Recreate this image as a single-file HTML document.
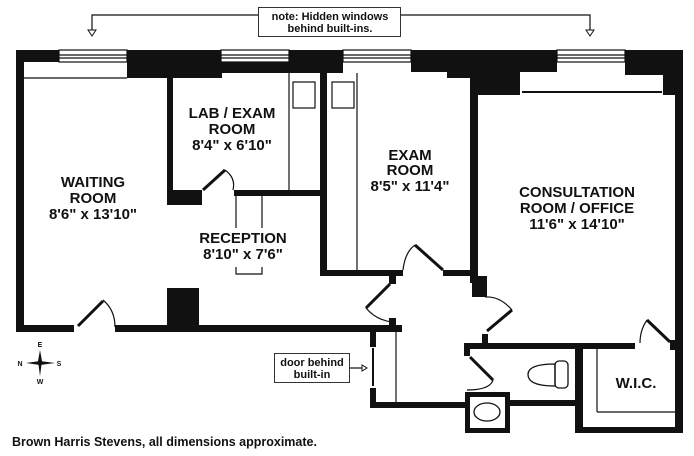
<!DOCTYPE html>
<html><head><meta charset="utf-8"><style>
html,body{margin:0;padding:0;background:#fff}
svg{display:block}
text{font-family:"Liberation Sans",Arial,sans-serif;font-weight:bold;fill:#111}
</style></head><body>
<svg width="694" height="456" viewBox="0 0 694 456" xmlns="http://www.w3.org/2000/svg">
<g fill="#111">
<rect x="16" y="50" width="667" height="12"/>
<rect x="127" y="50" width="95" height="28"/>
<rect x="167" y="62" width="160" height="11"/>
<rect x="289" y="50" width="54" height="23"/>
<rect x="411" y="50" width="146" height="22"/>
<rect x="447" y="50" width="73" height="28"/>
<rect x="470" y="50" width="50" height="45"/>
<rect x="625" y="50" width="58" height="25"/>
<rect x="663" y="50" width="20" height="45"/>
<rect x="16" y="50" width="8" height="282"/>
<rect x="675" y="50" width="8" height="383"/>
<rect x="167" y="62" width="6" height="143"/>
<rect x="167" y="190" width="35" height="15"/>
<rect x="234" y="190" width="93" height="6"/>
<rect x="320" y="62" width="7" height="214"/>
<rect x="320" y="270" width="83" height="6"/>
<rect x="443" y="270" width="35" height="6"/>
<rect x="470" y="78" width="8" height="205"/>
<rect x="472" y="276" width="15" height="21"/>
<rect x="482" y="334" width="6" height="12"/>
<rect x="16" y="325" width="58" height="7"/>
<rect x="115" y="325" width="287" height="7"/>
<rect x="167" y="288" width="32" height="44"/>
<rect x="389" y="276" width="7" height="8"/>
<rect x="389" y="318" width="7" height="14"/>
<rect x="370" y="330" width="6" height="17"/>
<rect x="370" y="388" width="6" height="20"/>
<rect x="370" y="402" width="95" height="6"/>
<rect x="464" y="343" width="171" height="6"/>
<rect x="464" y="343" width="6" height="13"/>
<rect x="575" y="343" width="8" height="90"/>
<rect x="510" y="400" width="65" height="6"/>
<rect x="575" y="427" width="108" height="6"/>
<rect x="670" y="340" width="6" height="10"/>
</g>
<rect x="467.5" y="394.5" width="40" height="36" fill="none" stroke="#111" stroke-width="5"/>
<ellipse cx="487" cy="412" rx="13" ry="9" fill="none" stroke="#111" stroke-width="1.3"/>
<rect x="555" y="361" width="13" height="27" rx="4" fill="none" stroke="#111" stroke-width="1.3"/>
<path d="M555 364 Q528 364 528 374.5 Q528 386 555 386 Z" fill="none" stroke="#111" stroke-width="1.3"/>
<g fill="none" stroke="#111" stroke-width="1.2">
<rect x="59" y="50" width="68" height="12" fill="#fff"/><line x1="59" y1="55" x2="127" y2="55"/><line x1="59" y1="58" x2="127" y2="58"/>
<rect x="221" y="50" width="68" height="12" fill="#fff"/><line x1="221" y1="55" x2="289" y2="55"/><line x1="221" y1="58" x2="289" y2="58"/>
<rect x="343" y="50" width="68" height="12" fill="#fff"/><line x1="343" y1="55" x2="411" y2="55"/><line x1="343" y1="58" x2="411" y2="58"/>
<rect x="557" y="50" width="68" height="12" fill="#fff"/><line x1="557" y1="55" x2="625" y2="55"/><line x1="557" y1="58" x2="625" y2="58"/>
<line x1="24" y1="78" x2="127" y2="78"/>
<line x1="222" y1="72" x2="289" y2="72"/>
<line x1="289" y1="73" x2="289" y2="190"/>
<line x1="357" y1="73" x2="357" y2="270"/>
<rect x="293" y="82" width="22" height="26"/>
<rect x="332" y="82" width="22" height="26"/>
<line x1="236" y1="196" x2="236" y2="228"/><line x1="262" y1="196" x2="262" y2="228"/>
<path d="M236 267 V274 H262 V267"/>
<line x1="522" y1="92" x2="662" y2="92" stroke-width="2"/>
<line x1="396" y1="332" x2="396" y2="402"/>
<line x1="597" y1="349" x2="597" y2="412"/><line x1="597" y1="412" x2="675" y2="412"/>
<path d="M225 170 Q236 178 233 190"/>
<path d="M103 300 Q115 310 115 327"/>
<path d="M415 245 Q405 252 403 270"/>
<path d="M366 308 Q376 320 392 322"/>
<path d="M512 310 Q500 296 485 297"/>
<path d="M493 380 Q490 390 467 390"/>
<path d="M647 320 Q640 330 640 343"/>
<path d="M258 15 H92 V30"/><path d="M401 15 H590 V30"/>
<path d="M362 368 H350"/>
</g>
<g stroke="#111" stroke-width="3" fill="none">
<line x1="203" y1="190" x2="225" y2="170"/>
<line x1="78" y1="326" x2="103" y2="301"/>
<line x1="443" y1="270" x2="415" y2="245"/>
<line x1="390" y1="284" x2="366" y2="308"/>
<line x1="487" y1="331" x2="512" y2="310"/>
<line x1="470" y1="357" x2="493" y2="380"/>
<line x1="647" y1="320" x2="670" y2="342"/>
</g>
<line x1="373" y1="348" x2="373" y2="386" stroke="#111" stroke-width="2"/>
<g fill="#fff" stroke="#111" stroke-width="1">
<path d="M88 30 L96 30 L92 36 Z"/><path d="M586 30 L594 30 L590 36 Z"/>
<path d="M362 365 L362 371 L367 368 Z"/>
</g>
<rect x="258.5" y="7.5" width="142" height="29" fill="#fff" stroke="#333" stroke-width="1"/>
<text x="330" y="20" font-size="11" text-anchor="middle">note: Hidden windows</text>
<text x="330" y="32" font-size="11" text-anchor="middle">behind built-ins.</text>
<rect x="274.5" y="353.5" width="75" height="29" fill="#fff" stroke="#333" stroke-width="1"/>
<text x="312" y="366" font-size="11" text-anchor="middle">door behind</text>
<text x="312" y="378" font-size="11" text-anchor="middle">built-in</text>
<g font-size="15" text-anchor="middle">
<text x="93" y="187">WAITING</text><text x="93" y="203">ROOM</text><text x="93" y="219">8'6" x 13'10"</text>
<text x="232" y="118">LAB / EXAM</text><text x="232" y="134">ROOM</text><text x="232" y="150">8'4" x 6'10"</text>
<text x="410" y="160">EXAM</text><text x="410" y="175">ROOM</text><text x="410" y="191">8'5" x 11'4"</text>
<text x="577" y="197">CONSULTATION</text><text x="577" y="213">ROOM / OFFICE</text><text x="577" y="229">11'6" x 14'10"</text>
<text x="243" y="243">RECEPTION</text><text x="243" y="259">8'10" x 7'6"</text>
<text x="636" y="388">W.I.C.</text>
</g>
<g fill="#111">
<path d="M40 350 L42 361 L40 376 L38 361 Z"/>
<path d="M26 363 L40 361 L55 363 L40 365 Z"/>
</g>
<g font-size="7" text-anchor="middle"><text x="40" y="347">E</text><text x="40" y="384">W</text><text x="20" y="366">N</text><text x="59" y="366">S</text></g>
<text x="12" y="446" font-size="12.5">Brown Harris Stevens, all dimensions approximate.</text>
</svg>
</body></html>
